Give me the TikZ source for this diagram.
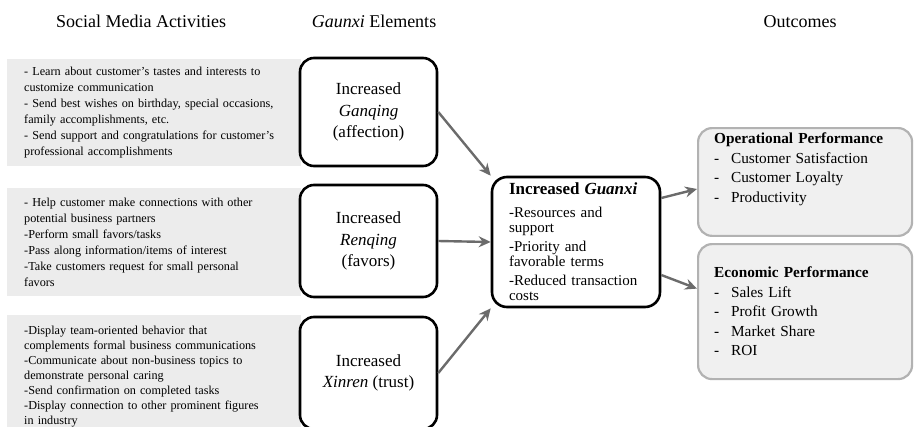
\documentclass[tikz,border=0pt]{standalone}
\usepackage{fontspec}
\setmainfont{Liberation Serif}
\usetikzlibrary{arrows.meta}
\definecolor{actgray}{gray}{0.925}
\definecolor{outfill}{gray}{0.94}
\definecolor{outline}{gray}{0.70}
\definecolor{arrowgray}{gray}{0.42}
\newcommand{\itemdash}{\makebox[17pt][l]{-}}
\hyphenpenalty=10000

\begin{document}
\begin{tikzpicture}[
   x=1pt, y=-1pt,
   >={Stealth[length=12pt, width=11pt, inset=4pt]},
   head/.style={font=\fontsize{18}{22}\selectfont},
   act/.style={fill=actgray, anchor=north west, align=left, inner xsep=17pt,
               minimum width=294pt, text width=260pt, minimum height=#1,
               font=\fontsize{12.2}{16}\selectfont},
   elem/.style={draw, fill=white, rounded corners=14pt, line width=2.6pt, align=center,
               minimum width=137pt, minimum height=#1, font=\fontsize{17}{21.5}\selectfont},
   outc/.style={draw=outline, fill=outfill, line width=2.2pt, rounded corners=14pt,
               anchor=north west, align=left, inner xsep=16pt, inner ysep=5pt,
               minimum width=214pt, text width=182pt, font=\fontsize{15.3}{19.5}\selectfont},
   link/.style={->, draw=arrowgray, line width=2.4pt},
]
\useasboundingbox (0,0) rectangle (916,426);
\clip (0,0) rectangle (916,426);

% ---- column heads ----
\node[head] (tact)  at (141,21) {Social Media Activities};
\node[head] (telem) at (374,21) {\textit{Gaunxi} Elements};
\node[head] (tout)  at (800,22) {Outcomes};

% ---- social media activities ----
\node[act=107pt] (act1) at (7,59)
   {- Learn about customer's tastes and interests to\\
   customize communication\\
   - Send best wishes on birthday, special occasions,\\
   family accomplishments, etc.\\
   - Send support and congratulations for customer's\\
   professional accomplishments};

\node[act=108pt, inner ysep=6pt] (act2) at (7,188)
   {- Help customer make connections with other\\
   potential business partners\\
   -Perform small favors/tasks\\
   -Pass along information/items of interest\\
   -Take customers request for small personal\\
   favors};

\node[act=122pt, font=\fontsize{12.2}{15}\selectfont] (act3) at (7,315)
   {-Display team-oriented behavior that\\
   complements formal business communications\\
   -Communicate about non-business topics to\\
   demonstrate personal caring\\
   -Send confirmation on completed tasks\\
   -Display connection to other prominent figures\\
   in industry};

% ---- guanxi elements ----
\node[elem=108pt] (ganqing) at (368.5,112) {Increased\\\textit{Ganqing}\\(affection)};
\node[elem=112pt] (renqing) at (368.5,241) {Increased\\\textit{Renqing}\\(favors)};
\node[elem=112pt] (xinren)  at (368.5,373) {Increased\\\textit{Xinren} (trust)};

% ---- increased guanxi ----
\node[draw, fill=white, rounded corners=15pt, line width=2.6pt, align=left,
      minimum width=168pt, minimum height=130pt, inner xsep=17pt, text width=134pt,
      font=\fontsize{15}{15}\selectfont] (guanxi) at (576,242)
   {{\fontsize{17}{20}\selectfont\bfseries Increased \textit{Guanxi}}\\[8pt]
   -Resources and\\
   support\\[4pt]
   -Priority and\\
   favorable terms\\[4pt]
   -Reduced transaction\\
   costs};

% ---- outcomes ----
\node[outc, text depth=87pt] (ops) at (697,127)
   {\textbf{Operational Performance}\\
   \itemdash Customer Satisfaction\\
   \itemdash Customer Loyalty\\
   \itemdash Productivity};

\node[outc, minimum height=135pt] (eco) at (697,243)
   {\textbf{Economic Performance}\\
   \itemdash Sales Lift\\
   \itemdash Profit Growth\\
   \itemdash Market Share\\
   \itemdash ROI};

% ---- arrows ----
\draw[link] (ganqing.east) -- (guanxi.north west);
\draw[link] (renqing.east) -- (guanxi.west);
\draw[link] (xinren.east) -- (guanxi.south west);
\draw[link] ([yshift=44pt]guanxi.east) -- ([yshift=-7pt]ops.west);
\draw[link] ([yshift=-33pt]guanxi.east) -- ([yshift=23pt]eco.west);
\end{tikzpicture}
\end{document}
